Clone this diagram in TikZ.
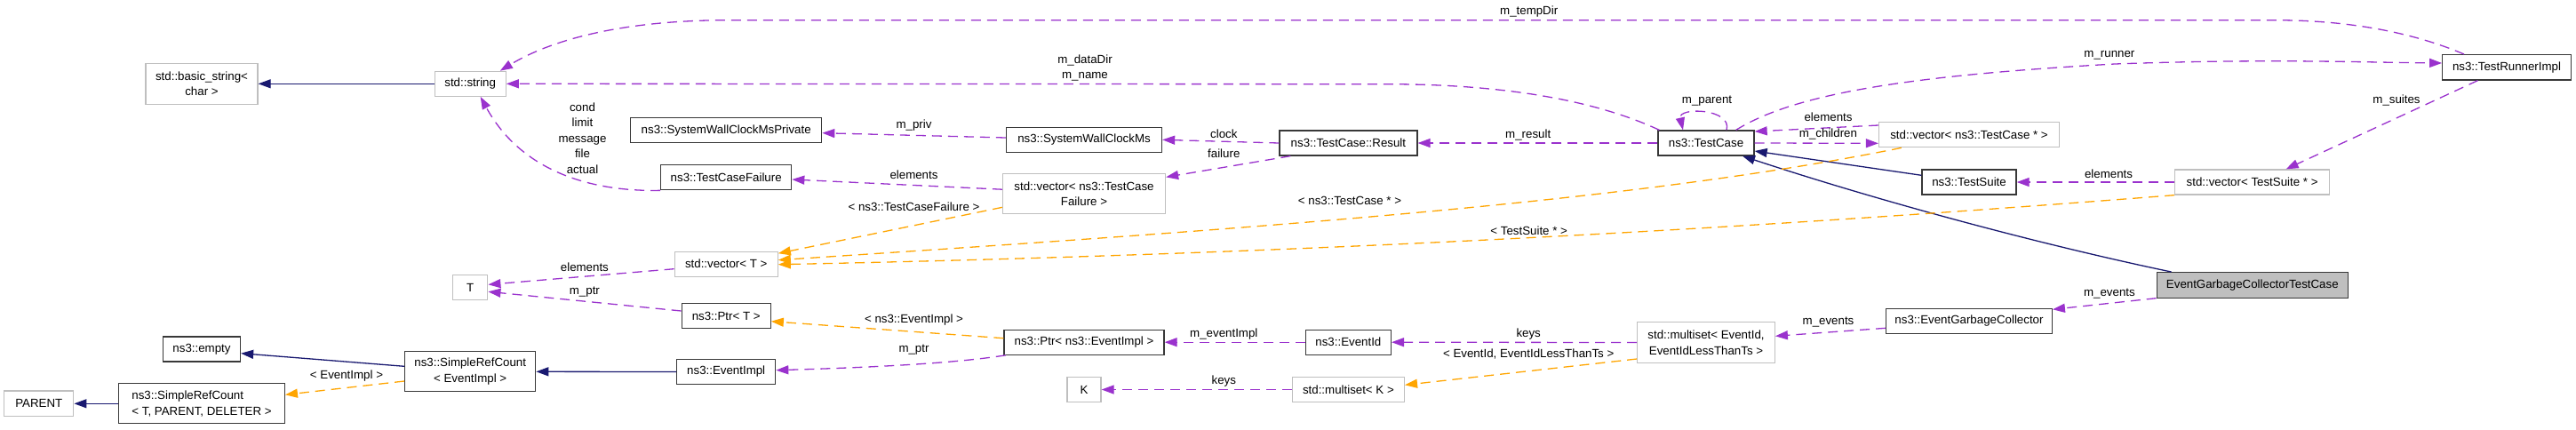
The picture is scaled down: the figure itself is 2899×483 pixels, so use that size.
\documentclass[tikz,border=0pt]{standalone}
\usepackage{fontspec}
\setmainfont{Liberation Sans}
\usetikzlibrary{calc,arrows.meta}
\definecolor{dpurple}{HTML}{9A32CD}
\definecolor{dorange}{HTML}{FFA500}
\definecolor{dblue}{HTML}{191970}
\definecolor{dgrey}{HTML}{BFBFBF}
\definecolor{dborder}{HTML}{383838}
\begin{document}
\begin{tikzpicture}[x=1pt,y=-1pt,
  every node/.style={font=\fontsize{13.3}{17.5}\selectfont, inner sep=0pt, align=center},
  doc/.style={draw=dborder, line width=1.3pt, fill=white},
  undoc/.style={draw=dgrey, line width=1.3pt, fill=white},
  ref/.style={draw=dpurple, line width=1.3pt, dash pattern=on 11pt off 7pt, -{Triangle[length=14pt,width=10pt]}},
  tmpl/.style={ref, draw=dorange},
  inh/.style={draw=dblue, line width=1.3pt, -{Triangle[length=14pt,width=10pt]}}]
\useasboundingbox (0,0) rectangle (2899,483);

% ---------- nodes ----------
\node[undoc, minimum width=126pt, minimum height=46pt] (basicstr) at (227,94.3) {std::basic\_string<\\char >};
\node[undoc, minimum width=80pt, minimum height=28pt] (str) at (529.2,94.3) {std::string};
\node[doc, minimum width=215pt, minimum height=28pt] (swcmp) at (817.2,146.7) {ns3::SystemWallClockMsPrivate};
\node[doc, minimum width=175pt, minimum height=28pt] (swcm) at (1220,157.3) {ns3::SystemWallClockMs};
\node[doc, minimum width=155pt, minimum height=28pt] (result) at (1517.4,161) {ns3::TestCase::Result};
\node[doc, minimum width=147pt, minimum height=28pt] (tcf) at (817.2,199.7) {ns3::TestCaseFailure};
\node[undoc, minimum width=183pt, minimum height=45pt] (vtcf) at (1220,218.2) {std::vector< ns3::TestCase\\Failure >};
\node[undoc, minimum width=116pt, minimum height=28pt] (vT) at (817.2,297.2) {std::vector< T >};
\node[undoc, minimum width=39pt, minimum height=28pt] (T) at (529.3,323.8) {T};
\node[doc, minimum width=100pt, minimum height=28pt] (ptrT) at (817.2,355.8) {ns3::Ptr< T >};
\node[doc, minimum width=180pt, minimum height=28pt] (ptrE) at (1220,385.2) {ns3::Ptr< ns3::EventImpl >};
\node[doc, minimum width=111pt, minimum height=28pt] (eimpl) at (817.2,418.5) {ns3::EventImpl};
\node[undoc, minimum width=38pt, minimum height=28pt] (K) at (1220,438.5) {K};
\node[undoc, minimum width=126pt, minimum height=28pt] (msK) at (1517.4,438.5) {std::multiset< K >};
\node[doc, minimum width=96pt, minimum height=28pt] (eid) at (1517.4,385.2) {ns3::EventId};
\node[undoc, minimum width=154.5pt, minimum height=45.7pt] (ms) at (1920,385.5) {std::multiset< EventId,\\EventIdLessThanTs >};
\node[doc, minimum width=186.6pt, minimum height=28pt] (egc) at (2216,361.2) {ns3::EventGarbageCollector};
\node[doc, fill=dgrey, minimum width=215pt, minimum height=29pt] (egctc) at (2534.8,321.2) {EventGarbageCollectorTestCase};
\node[doc, minimum width=108pt, minimum height=28pt] (tc) at (1920,161) {ns3::TestCase};
\node[undoc, minimum width=203pt, minimum height=28pt] (vtc) at (2216,151.7) {std::vector< ns3::TestCase * >};
\node[doc, minimum width=106pt, minimum height=28pt] (ts) at (2216,205) {ns3::TestSuite};
\node[undoc, minimum width=174pt, minimum height=28pt] (vts) at (2534.6,205) {std::vector< TestSuite * >};
\node[doc, minimum width=144.5pt, minimum height=28.3pt] (tri) at (2821,75.8) {ns3::TestRunnerImpl};
\node[doc, minimum width=87pt, minimum height=28pt] (empty) at (227,393) {ns3::empty};
\node[doc, minimum width=147pt, minimum height=45pt] (src) at (529.2,418.3) {ns3::SimpleRefCount\\< EventImpl >};
\node[doc, align=left, minimum width=186.6pt, minimum height=45pt] (srcT) at (227,454.3) {ns3::SimpleRefCount\\< T, PARENT, DELETER >};
\node[undoc, minimum width=78pt, minimum height=28.7pt] (parent) at (43.8,454.3) {PARENT};

% ---------- inheritance ----------
\draw[inh] (str.west) -- (basicstr.east);
\draw[inh] ($(ts.west)+(0,-7.7)$) -- ($(tc.east)+(0,9)$);
\draw[inh] ($(egctc.north west)+(17,0)$) .. controls (2300,276) and (2120,228) .. ($(tc.south)+(41,0)$);
\draw[inh] (eimpl.west) -- (src.east);
\draw[inh] ($(src.west)+(0,-6)$) -- ($(empty.east)+(0,4.7)$);
\draw[inh] (srcT.west) -- (parent.east);

% ---------- usage (purple) ----------
\draw[ref] ($(tc.north west)+(2,0)$) .. controls (1800,115) and (1700,94.7) .. (1560,94.7) -- (str.east);
\draw[ref] ($(tri.north)+(-48,0)$) .. controls (2700,30) and (2620,22.7) .. (2560,22.7) -- (820,22.7) .. controls (700,22.7) and (620,45) .. ($(str.north east)+(-7,0)$);
\draw[ref] ($(tc.north east)+(-21,0)$) .. controls (2020,105) and (2150,85) .. (2380,72) .. controls (2550,66) and (2650,70) .. ($(tri.west)+(0,-4.8)$);
\draw[ref] ($(tc.north)+(23,0)$) .. controls (1950,122) and (1888,120) .. ($(tc.north)+(-26,0)$);
\draw[ref] (tc.west) -- (result.east);
\draw[ref] ($(vtc.west)+(0,-10.7)$) -- ($(tc.east)+(0,-13)$);
\draw[ref] (tc.east) -- ($(vtc.west)+(0,9.6)$);
\draw[ref] (result.west) -- (swcm.east);
\draw[ref] ($(result.south west)+(13,0)$) -- ($(vtcf.north east)+(0,4.3)$);
\draw[ref] ($(swcm.west)+(0,-2.3)$) -- ($(swcmp.east)+(0,3)$);
\draw[ref] ($(vtcf.west)+(0,-5)$) -- ($(tcf.east)+(0,2.3)$);
\draw[ref] (tcf.south west) .. controls (660,216) and (585,190) .. ($(str.south)+(11.5,0)$);
\draw[ref] ($(vT.west)+(0,5.5)$) -- ($(T.east)+(0,-3.5)$);
\draw[ref] ($(ptrT.west)+(0,-5.8)$) -- ($(T.east)+(0,4.5)$);
\draw[ref] ($(ptrE.south west)+(2.3,0)$) .. controls (1080,408) and (1000,413) .. ($(eimpl.east)+(0,-1.8)$);
\draw[ref] (eid.west) -- (ptrE.east);
\draw[ref] (msK.west) -- (K.east);
\draw[ref] (ms.west) -- (eid.east);
\draw[ref] ($(egc.west)+(0,8.1)$) -- ($(ms.east)+(0,-7.2)$);
\draw[ref] ($(egctc.south west)+(0,-0.7)$) -- ($(egc.east)+(0,-12.9)$);
\draw[ref] ($(tri.south)+(-32.5,0)$) -- ($(vts.north)+(38,0)$);
\draw[ref] (vts.west) -- (ts.east);

% ---------- template instances (orange) ----------
\draw[tmpl] ($(vtcf.south west)+(0,-8)$) -- ($(vT.east)+(0,-12)$);
\draw[tmpl] ($(vtc.south west)+(26,0)$) .. controls (1850,225) and (1450,255) .. ($(vT.east)+(0,-4.5)$);
\draw[tmpl] (vts.south west) .. controls (2000,255) and (1500,285) .. ($(vT.east)+(0,0.5)$);
\draw[tmpl] ($(ptrE.west)+(0,-4.5)$) -- ($(ptrT.east)+(0,5.9)$);
\draw[tmpl] ($(ms.south west)+(0,-5)$) -- ($(msK.east)+(0,-5.2)$);
\draw[tmpl] ($(src.west)+(0,10.7)$) -- ($(srcT.east)+(0,-10)$);

% ---------- labels ----------
\node (lTempDir) at (1720.7,13.3) {m\_tempDir};
\node (lDataDir) at (1221,76.3) {m\_dataDir\\m\_name};
\node (lRunner) at (2373.9,62.7) {m\_runner};
\node (lParent) at (1921,113.3) {m\_parent};
\node (lResult) at (1719.7,151.7) {m\_result};
\node (lElemTC) at (2057.5,131.7) {elements};
\node (lChildren) at (2057.5,151) {m\_children};
\node (lClock) at (1377.3,150.7) {clock};
\node (lFailure) at (1377.3,172.7) {failure};
\node (lPriv) at (1028.5,140.7) {m\_priv};
\node (lElemTCF) at (1028.5,196.7) {elements};
\node (lStrings) at (655.5,155.7) {cond\\limit\\message\\file\\actual};
\node (lElemT) at (657.9,301) {elements};
\node (lPtrT) at (657.9,328.7) {m\_ptr};
\node (lTCFt) at (1028.5,232.3) {< ns3::TestCaseFailure >};
\node (lTCt) at (1519,225.7) {< ns3::TestCase * >};
\node (lTSt) at (1720.7,260) {< TestSuite * >};
\node (lEIt) at (1028.5,360) {< ns3::EventImpl >};
\node (lPtrE) at (1028.5,393.3) {m\_ptr};
\node (lEventImpl) at (1377.3,376) {m\_eventImpl};
\node (lKeysK) at (1377.3,428.7) {keys};
\node (lKeys) at (1720.2,375.7) {keys};
\node (lMSt) at (1720.2,399) {< EventId, EventIdLessThanTs >};
\node (lEvents1) at (2057.5,362.7) {m\_events};
\node (lEvents2) at (2373.9,330.7) {m\_events};
\node (lSuites) at (2697,112.7) {m\_suites};
\node (lElemTS) at (2373,196) {elements};
\node (lSRCt) at (390,423.3) {< EventImpl >};
\end{tikzpicture}
\end{document}
